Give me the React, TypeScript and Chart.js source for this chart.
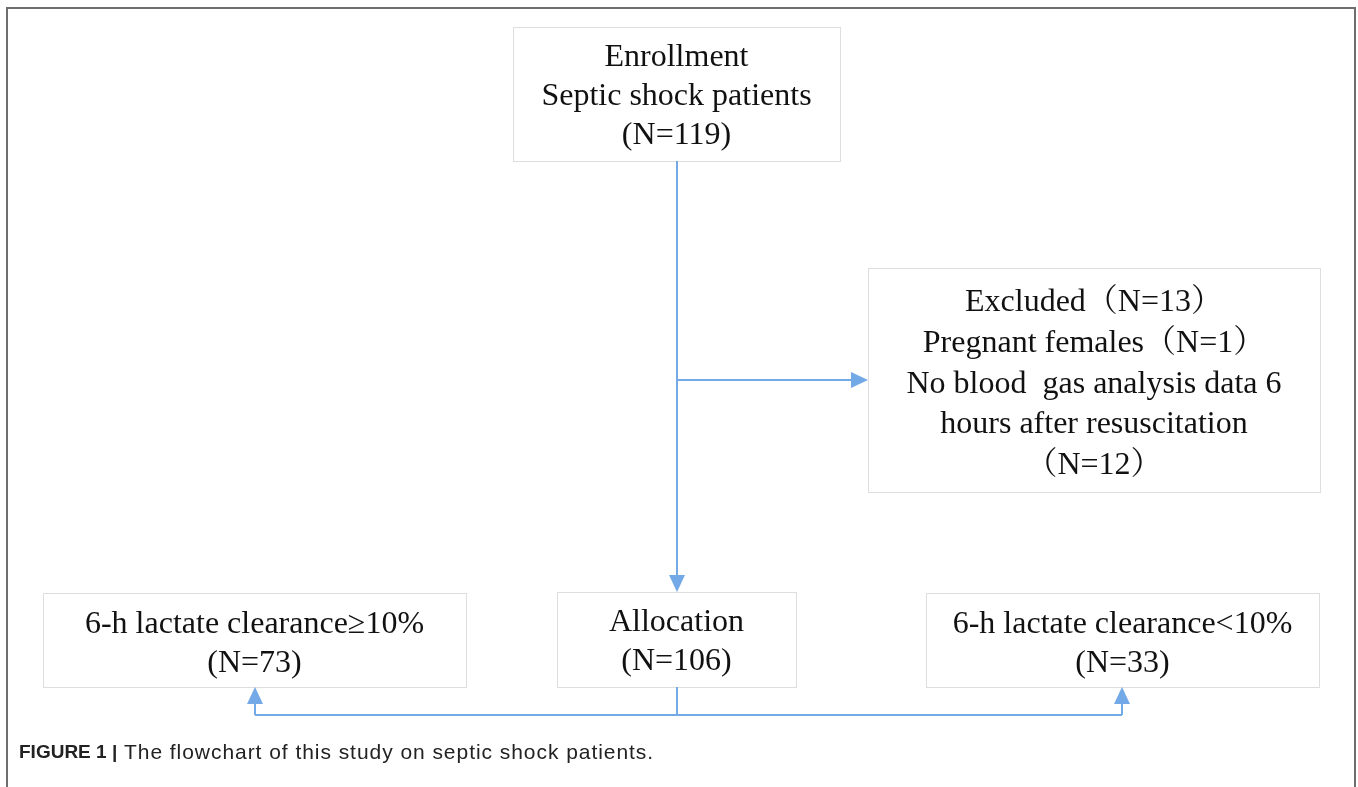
import { useEffect, useRef } from "react";
import { Chart, registerables } from "chart.js";

Chart.register(...registerables);

// ---- Data (counts and texts) ----
const enrolledN = 119;
const excludedN = 13;
const pregnantN = 1;
const noGasDataN = 12;
const allocatedN = 106;
const highClearanceN = 73;
const lowClearanceN = 33;

const enrollmentLines = ["Enrollment", "Septic shock patients", `(N=${enrolledN})`];
const excludedLines = [
  `Excluded（N=${excludedN}）`,
  `Pregnant females（N=${pregnantN}）`,
  "No blood  gas analysis data 6",
  "hours after resuscitation",
  `（N=${noGasDataN}）`,
];
const allocationLines = ["Allocation", `(N=${allocatedN})`];
const highLines = ["6-h lactate clearance≥10%", `(N=${highClearanceN})`];
const lowLines = ["6-h lactate clearance<10%", `(N=${lowClearanceN})`];

const captionBold = "FIGURE 1 |";
const captionText = " The flowchart of this study on septic shock patients.";

// ---- Layout (scale units = page pixels) ----
const W = 1358;
const H = 787;
const TEXT_SHIFT = 2.5;
type Box = { l: number; t: number; r: number; b: number; lines: string[]; lineY: number[] };
const boxes: Box[] = [
  { l: 513, t: 27, r: 840, b: 161, lines: enrollmentLines, lineY: [55, 94, 133] },
  { l: 868, t: 268, r: 1320, b: 492, lines: excludedLines, lineY: [300, 341, 382, 422, 463] },
  { l: 557, t: 592, r: 796, b: 687, lines: allocationLines, lineY: [620, 659] },
  { l: 43, t: 593, r: 466, b: 687, lines: highLines, lineY: [622, 661] },
  { l: 926, t: 593, r: 1319, b: 687, lines: lowLines, lineY: [622, 661] },
];

const BLUE = "#72a9e6";
const HEAD_LEN = 17;
const HEAD_HALF = 8;
const MAIN_X = 677;
const BRANCH_Y = 380;
const BOTTOM_Y = 715;
const LEFT_X = 255;
const RIGHT_X = 1122;

type Arrow = { x: number; y: number; dir: "down" | "right" | "up" };
const arrows: Arrow[] = [
  { x: MAIN_X, y: 592, dir: "down" },
  { x: 868, y: BRANCH_Y, dir: "right" },
  { x: LEFT_X, y: 687, dir: "up" },
  { x: RIGHT_X, y: 687, dir: "up" },
];

const segments: { x: number; y: number }[][] = [
  [{ x: MAIN_X, y: 161 }, { x: MAIN_X, y: 592 - HEAD_LEN + 1 }],
  [{ x: MAIN_X, y: BRANCH_Y }, { x: 868 - HEAD_LEN + 1, y: BRANCH_Y }],
  [{ x: MAIN_X, y: 687 }, { x: MAIN_X, y: BOTTOM_Y }],
  [{ x: LEFT_X, y: BOTTOM_Y }, { x: RIGHT_X, y: BOTTOM_Y }],
  [{ x: LEFT_X, y: BOTTOM_Y }, { x: LEFT_X, y: 687 + HEAD_LEN - 1 }],
  [{ x: RIGHT_X, y: BOTTOM_Y }, { x: RIGHT_X, y: 687 + HEAD_LEN - 1 }],
];

const SERIF = "'Liberation Serif', 'Times New Roman', 'Noto Serif CJK SC', 'Noto Sans CJK SC', serif";
const SANS = "'Liberation Sans', Arial, sans-serif";

const flowPlugin = {
  id: "flow",
  beforeDatasetsDraw(chart: any) {
    const ctx = chart.ctx as CanvasRenderingContext2D;
    const xs = chart.scales.x;
    const ys = chart.scales.y;
    const px = (v: number) => xs.getPixelForValue(v);
    const py = (v: number) => ys.getPixelForValue(v);
    ctx.save();
    ctx.fillStyle = "#ffffff";
    ctx.fillRect(0, 0, chart.width, chart.height);
    // outer frame
    ctx.strokeStyle = "#6e6e6e";
    ctx.lineWidth = 2;
    ctx.beginPath();
    ctx.moveTo(px(7), py(H));
    ctx.lineTo(px(7), py(8));
    ctx.lineTo(px(1355), py(8));
    ctx.lineTo(px(1355), py(H));
    ctx.stroke();
    // boxes
    for (const b of boxes) {
      const x0 = px(b.l), y0 = py(b.t), x1 = px(b.r), y1 = py(b.b);
      ctx.fillStyle = "#f1f1f1";
      ctx.fillRect(x0 + 1, y0 + 1, x1 - x0, y1 - y0);
      ctx.fillStyle = "#ffffff";
      ctx.fillRect(x0, y0, x1 - x0, y1 - y0);
      ctx.strokeStyle = "#dedede";
      ctx.lineWidth = 1;
      ctx.strokeRect(Math.round(x0) + 0.5, Math.round(y0) + 0.5, Math.round(x1 - x0), Math.round(y1 - y0));
    }
    ctx.restore();
  },
  afterDatasetsDraw(chart: any) {
    const ctx = chart.ctx as CanvasRenderingContext2D;
    const xs = chart.scales.x;
    const ys = chart.scales.y;
    const px = (v: number) => xs.getPixelForValue(v);
    const py = (v: number) => ys.getPixelForValue(v);
    ctx.save();
    // arrowheads
    ctx.fillStyle = BLUE;
    for (const a of arrows) {
      const x = px(a.x), y = py(a.y);
      ctx.beginPath();
      if (a.dir === "down") {
        ctx.moveTo(x, y);
        ctx.lineTo(x - HEAD_HALF, y - HEAD_LEN);
        ctx.lineTo(x + HEAD_HALF, y - HEAD_LEN);
      } else if (a.dir === "up") {
        ctx.moveTo(x, y);
        ctx.lineTo(x - HEAD_HALF, y + HEAD_LEN);
        ctx.lineTo(x + HEAD_HALF, y + HEAD_LEN);
      } else {
        ctx.moveTo(x, y);
        ctx.lineTo(x - HEAD_LEN, y - HEAD_HALF);
        ctx.lineTo(x - HEAD_LEN, y + HEAD_HALF);
      }
      ctx.closePath();
      ctx.fill();
    }
    // box texts
    ctx.fillStyle = "#111111";
    ctx.textAlign = "center";
    ctx.textBaseline = "middle";
    ctx.font = `32px ${SERIF}`;
    for (const b of boxes) {
      const cx = px((b.l + b.r) / 2);
      b.lines.forEach((ln, i) => ctx.fillText(ln, cx, py(b.lineY[i] + TEXT_SHIFT)));
    }
    // caption
    ctx.textAlign = "left";
    ctx.fillStyle = "#222222";
    ctx.font = `bold 19px ${SANS}`;
    const cx0 = px(19);
    const cy = py(753);
    ctx.fillText(captionBold, cx0, cy);
    const wb = ctx.measureText(captionBold).width;
    ctx.font = `21px ${SANS}`;
    (ctx as any).letterSpacing = "0.95px";
    ctx.fillText(captionText, cx0 + wb, cy);
    ctx.restore();
  },
};

export default function App() {
  const ref = useRef<HTMLCanvasElement | null>(null);
  useEffect(() => {
    if (!ref.current) return;
    const chart = new Chart(ref.current, {
      type: "scatter",
      data: {
        datasets: segments.map((s) => ({
          data: s,
          showLine: true,
          borderColor: BLUE,
          borderWidth: 2,
          pointRadius: 0,
          fill: false,
        })),
      },
      options: {
        responsive: false,
        animation: false,
        devicePixelRatio: 1,
        layout: { padding: 0 },
        plugins: { legend: { display: false }, tooltip: { enabled: false }, title: { display: false } },
        scales: {
          x: { type: "linear", min: 0, max: W, display: false },
          y: { type: "linear", min: 0, max: H, reverse: true, display: false },
        },
      },
      plugins: [flowPlugin],
    });
    return () => chart.destroy();
  }, []);
  return (
    <div style={{ position: "absolute", left: 0, top: 0, width: W, height: H }}>
      <canvas ref={ref} width={W} height={H} style={{ display: "block" }} />
    </div>
  );
}
